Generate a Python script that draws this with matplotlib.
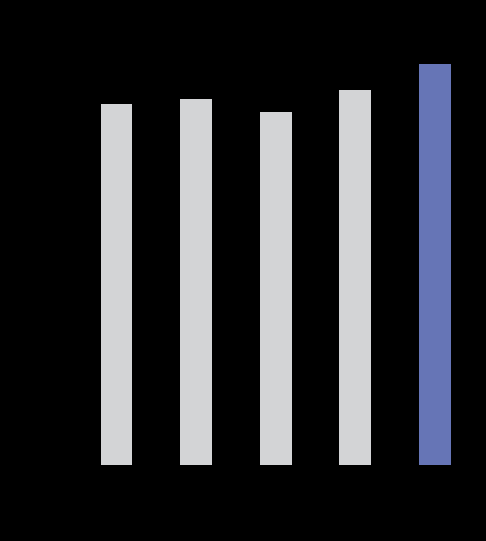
import matplotlib
matplotlib.use("Agg")
import matplotlib.pyplot as plt

# valores (escala relativa, la última barra = 100)
categories = ["A", "B", "C", "D", "E"]
values = [90.0, 91.3, 88.0, 93.5, 100.0]
colors = ["#d3d4d6", "#d3d4d6", "#d3d4d6", "#d3d4d6", "#6675b6"]

W, H = 486, 541
fig = plt.figure(figsize=(W / 100, H / 100), dpi=100, facecolor="black")
ax = fig.add_axes([76.7 / W, 76 / H, 398.1 / W, 401 / H])
ax.set_facecolor("black")

x = range(len(categories))
ax.bar(x, values, width=0.4, color=colors)
ax.set_xlim(-0.5, len(categories) - 0.5)
ax.set_ylim(0, 100)

for s in ax.spines.values():
    s.set_visible(False)
ax.set_xticks([])
ax.set_yticks([])

fig.savefig("out.png", dpi=100, facecolor="black")
